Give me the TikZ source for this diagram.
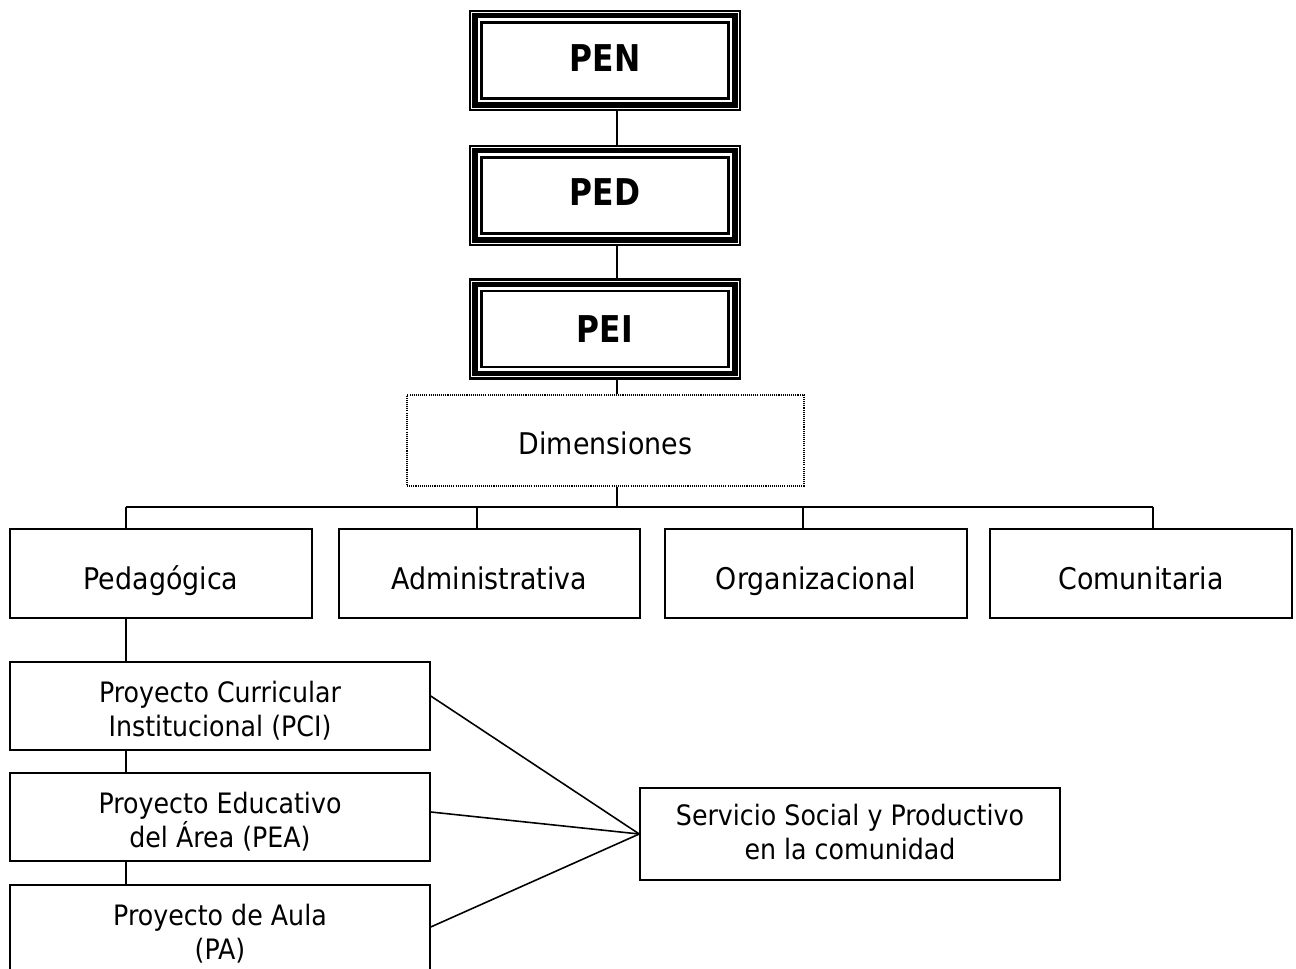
\documentclass[tikz,border=0pt]{standalone}
\usepackage{fontspec}
\setmainfont{DejaVu Sans}[FakeStretch=0.9, BoldFeatures={FakeStretch=0.85}]
\usetikzlibrary{positioning, calc}

\begin{document}
\begin{tikzpicture}[
  x=0.02cm, y=-0.02cm,
  font=\fontsize{17}{19.3}\selectfont,
  plan/.style={draw, line width=1.2pt, minimum width=5.4cm,
               minimum height=1.98cm, inner sep=0pt, text depth=0pt,
               font=\fontsize{21}{24}\selectfont\bfseries},
  dimbox/.style={draw, line width=0.8pt, dash pattern=on 0.6pt off 0.6pt,
                 minimum width=7.94cm, minimum height=1.82cm, inner sep=0pt,
                 text height=16.4pt, text depth=0pt},
  dimen/.style={draw, line width=0.9pt, minimum height=1.78cm, inner sep=0pt,
                text height=18.7pt, text depth=0pt},
  proj/.style={draw, line width=0.9pt, minimum width=8.4cm,
               minimum height=1.76cm, inner sep=0pt, align=center,
               text height=35pt, text depth=0pt,
               font=\fontsize{16}{19.3}\selectfont},
  conn/.style={line width=0.9pt}
]
\useasboundingbox (0,0) rectangle (1296,969);

%% ——— Planes: PEN, PED, PEI ———
\node[plan, text height=12.7pt] (pen) at (605, 60.5) {PEN};
\node[plan, text height=11.5pt] (ped) at (605, 195.5) {PED};
\node[plan, text height=15.9pt] (pei) at (605, 329) {PEI};

\foreach \n in {pen, ped, pei}{
  \draw[line width=2.9pt] ([shift={(6,6)}]\n.north west)
    rectangle ([shift={(-6,-6)}]\n.south east);
  \draw[line width=1.3pt] ([shift={(12.5,12.5)}]\n.north west)
    rectangle ([shift={(-12.5,-12.5)}]\n.south east);
}

\coordinate (eje) at (617, 0);
\draw[conn] (pen.south -| eje) -- (ped.north -| eje);
\draw[conn] (ped.south -| eje) -- (pei.north -| eje);

%% ——— Dimensiones ———
\node[dimbox] (dim) at (605.5, 440.5) {Dimensiones};
\draw[conn] (pei.south -| eje) -- (dim.north -| eje);

\coordinate (d1) at (126, 507);
\coordinate (d2) at (477, 507);
\coordinate (d3) at (803, 507);
\coordinate (d4) at (1153, 507);

\node[dimen, minimum width=6.04cm] (pedag) at (161, 573.5) {Pedagógica};
\node[dimen, minimum width=6.02cm] (admin) at (489.5, 573.5) {Administrativa};
\node[dimen, minimum width=6.04cm] (organ) at (816, 573.5) {Organizacional};
\node[dimen, minimum width=6.04cm] (comun) at (1141, 573.5) {Comunitaria};

\draw[conn] (dim.south -| eje) -- (d1 -| eje);
\draw[conn] (d1) -- (d4);
\draw[conn] (d1) -- (d1 |- pedag.north);
\draw[conn] (d2) -- (d2 |- admin.north);
\draw[conn] (d3) -- (d3 |- organ.north);
\draw[conn] (d4) -- (d4 |- comun.north);

%% ——— Proyectos de la dimensión pedagógica ———
\node[proj] (pci) at (220, 706) {Proyecto Curricular\\Institucional (PCI)};
\node[proj] (pea) at (220, 817) {Proyecto Educativo\\del Área (PEA)};
\node[proj] (pa) at (220, 929) {Proyecto de Aula\\(PA)};

\draw[conn] (d1 |- pedag.south) -- (d1 |- pci.north);
\draw[conn] (d1 |- pci.south) -- (d1 |- pea.north);
\draw[conn] (d1 |- pea.south) -- (d1 |- pa.north);

\node[proj, minimum height=1.84cm, text height=29pt] (serv) at (850, 834)
  {Servicio Social y Productivo\\en la comunidad};

\draw[conn] ($(pci.east)+(0,-10)$) -- (serv.west);
\draw[conn] ($(pea.east)+(0,-5)$) -- (serv.west);
\draw[conn] ($(pa.east)+(0,-2)$) -- (serv.west);

\end{tikzpicture}
\end{document}
